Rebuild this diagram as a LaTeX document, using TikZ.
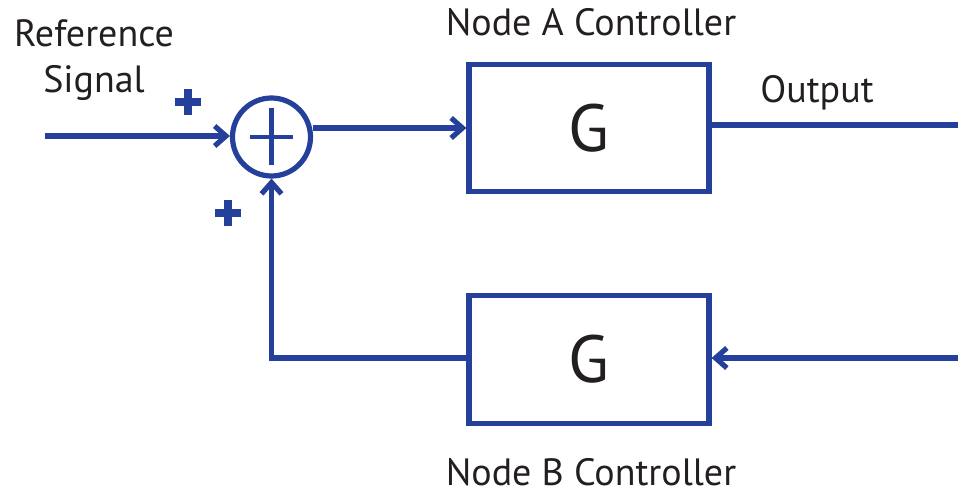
\documentclass[tikz,border=0pt]{standalone}
\usepackage{fontspec}
\setmainfont{PT Sans}
\usetikzlibrary{arrows.meta}
\definecolor{linkblue}{RGB}{36,64,155}
\definecolor{ink}{RGB}{35,31,32}
\begin{document}
\begin{tikzpicture}[x=0.75pt,y=-0.75pt,
  wire/.style={draw=linkblue,line width=3.9pt},
  arr/.style={wire,-{Straight Barb[length=8.5pt,width=15pt]}},
  block/.style={draw=linkblue,line width=3.9pt,minimum width=180pt,
    minimum height=95.5pt,inner sep=0pt,text=ink,font=\fontsize{50}{50}\selectfont},
  summer/.style={circle,draw=linkblue,line width=3.9pt,minimum size=58.5pt,inner sep=0pt},
  lbl/.style={text=ink,font=\fontsize{28.5}{34.5}\selectfont,inner sep=0pt},
  plusmark/.style={minimum size=20pt,inner sep=0pt,path picture={
    \fill[linkblue] ([yshift=-3.2pt]path picture bounding box.west) rectangle
                    ([yshift=3.2pt]path picture bounding box.east);
    \fill[linkblue] ([xshift=-3.2pt]path picture bounding box.south) rectangle
                    ([xshift=3.2pt]path picture bounding box.north);}}]
\useasboundingbox (0,0) rectangle (958,492);

% summing junction and the two controller blocks
\node[summer] (sum) at (271.5,137) {};
\draw[wire,line width=3.4pt] ([xshift=-16pt]sum.center) -- ([xshift=16pt]sum.center);
\draw[wire,line width=3.4pt] ([yshift=22pt]sum.center) -- ([yshift=-21pt]sum.center);
\node[block] (A) at (589,128) {G};
\node[block,minimum height=96pt] (B) at (589,359.5) {G};

% sign marks at the junction inputs
\node[plusmark] (p1) at (188,102) {};
\node[plusmark] (p2) at (228,213) {};

% free ends of the signal lines
\coordinate (ref) at (45,136);
\coordinate (out) at (958,125);
\coordinate (fb) at (958,358);

% signal flow
\draw[arr] (ref) -- (ref -| sum.west);
\draw[arr] (sum.east |- A.west) -- (A.west);
\draw[wire] (A.east |- out) -- (out);
\draw[arr] (fb) -- (fb -| B.east);
\draw[arr] (B.west |- fb) -- (sum.south |- fb) -- (sum.south);

% labels
\node[lbl,align=center,anchor=base] (reflbl) at (94,92.5) {Reference\\Signal};
\node[lbl,anchor=base] (Alabel) at (591,36) {Node A Controller};
\node[lbl,anchor=base] (outlbl) at (817,103) {Output};
\node[lbl,anchor=base] (Blabel) at (591,485.5) {Node B Controller};
\end{tikzpicture}
\end{document}
